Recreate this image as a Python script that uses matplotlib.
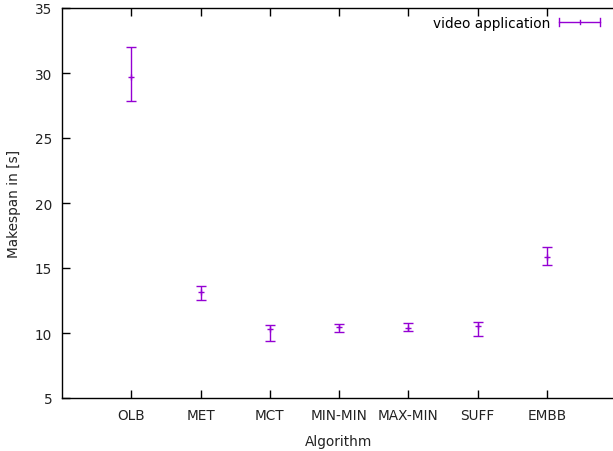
import matplotlib
matplotlib.use("Agg")
import matplotlib.pyplot as plt
from matplotlib.lines import Line2D
from matplotlib.legend_handler import HandlerBase

# data
algorithms = ["OLB", "MET", "MCT", "MIN-MIN", "MAX-MIN", "SUFF", "EMBB"]
makespan = [29.67, 13.18, 10.31, 10.46, 10.38, 10.51, 15.85]
err_low = [27.85, 12.52, 9.41, 10.10, 10.13, 9.79, 15.23]
err_high = [32.0, 13.64, 10.64, 10.72, 10.79, 10.87, 16.6]

color = "#9400D3"
plt.rcParams["font.family"] = "DejaVu Sans"
plt.rcParams["font.size"] = 9.8

fig = plt.figure(figsize=(6.13, 4.52), dpi=100)
ax = fig.add_axes([62 / 613, 53 / 452, 554 / 613, 390 / 452])

xs = list(range(1, len(algorithms) + 1))
yerr = [[m - lo for m, lo in zip(makespan, err_low)],
        [hi - m for m, hi in zip(makespan, err_high)]]
ax.errorbar(xs, makespan, yerr=yerr, fmt="none", ecolor=color,
            elinewidth=1, capsize=3.5, capthick=1)
ax.plot(xs, makespan, linestyle="none", marker="+", markersize=5,
        color=color, markeredgewidth=1)


class GnuplotErrHandler(HandlerBase):
    # gnuplot-like key sample: horizontal bar with end caps and a centre tick
    def create_artists(self, legend, orig_handle, xdescent, ydescent,
                       width, height, fontsize, trans):
        y = height / 2 - ydescent
        x0, x1 = -xdescent, width - xdescent
        line = Line2D([x0, x1], [y, y], color=color, lw=1, transform=trans)
        c0 = Line2D([x0, x0], [y - 3, y + 3], color=color, lw=1, transform=trans)
        c1 = Line2D([x1, x1], [y - 3, y + 3], color=color, lw=1, transform=trans)
        mid = Line2D([(x0 + x1) / 2] * 2, [y - 1.5, y + 1.5], color=color,
                     lw=1, transform=trans)
        return [line, c0, c1, mid]


proxy = Line2D([], [], color=color)
leg = ax.legend([proxy], ["video application"], handler_map={Line2D: GnuplotErrHandler()},
                loc="center right", bbox_to_anchor=((600 - 62) / 554, 1 - 15 / 390),
                frameon=False, handlelength=3.0, markerfirst=False,
                handletextpad=0.65, borderaxespad=0, borderpad=0, fontsize=9.8)

ax.set_xlim(0, 8)
ax.set_ylim(5, 35)
ax.set_xticks(xs)
ax.set_xticklabels(algorithms)
ax.set_yticks(range(5, 36, 5))
ax.tick_params(direction="in", length=6, width=1, color="black",
               labelcolor="#222222", top=True, right=False, pad=7)
ax.set_xlabel("Algorithm", color="#222222", labelpad=9)
ax.set_ylabel("Makespan in [s]", color="#222222", labelpad=10)
for s in ax.spines.values():
    s.set_linewidth(1)
    s.set_color("black")

fig.savefig("out.png", dpi=100)
